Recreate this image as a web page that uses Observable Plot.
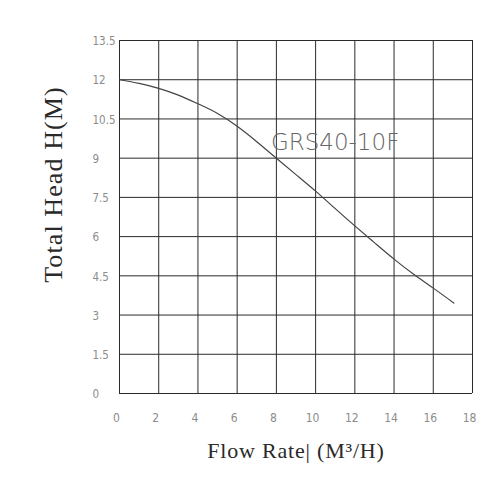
<!DOCTYPE html>
<html>
<head>
<meta charset="utf-8">
<script src="https://cdn.jsdelivr.net/npm/d3@7"></script>
<script src="https://cdn.jsdelivr.net/npm/@observablehq/plot@0.6"></script>
<style>
  html, body { margin: 0; padding: 0; background: #fff; }
  svg g[aria-label="x-axis tick label"] text,
  svg g[aria-label="y-axis tick label"] text { font-stretch: condensed; }
</style>
</head>
<body>
<div id="chart"></div>
<script>
// Data
const flow = [0, 1, 2, 3, 4, 5, 6, 7, 8, 9, 10, 11, 12, 13, 14, 15, 16, 17.05];
const head = [12, 11.86, 11.67, 11.41, 11.08, 10.71, 10.22, 9.63, 9.0, 8.37, 7.74, 7.07, 6.41, 5.77, 5.14, 4.56, 4.03, 3.46];
const xTicks = [0, 2, 4, 6, 8, 10, 12, 14, 16, 18];
const yTicks = [0, 1.5, 3, 4.5, 6, 7.5, 9, 10.5, 12, 13.5];
const seriesName = ["GRS40-10F"];
const xTitle = "Flow Rate| (M³/H)";
const yTitle = "Total Head H(M)";

const points = flow.map((f, i) => ({flow: f, head: head[i]}));

const svg = Plot.plot({
  width: 500,
  height: 500,
  marginLeft: 119,
  marginRight: 28,
  marginTop: 40,
  marginBottom: 107,
  style: {fontFamily: "'DejaVu Sans', sans-serif", fontSize: "12px", background: "#fff"},
  x: {domain: [0, 18]},
  y: {domain: [0, 13.5]},
  marks: [
    Plot.ruleX(xTicks, {stroke: "#2a2a2a", strokeWidth: 1}),
    Plot.ruleY(yTicks, {stroke: "#2a2a2a", strokeWidth: 1}),
    Plot.axisX({ticks: xTicks, tickFormat: d => `${d}`, tickSize: 0, tickPadding: 20, dx: -3, fill: "#8c8c8c", fontSize: 12, label: null}),
    Plot.axisY({ticks: yTicks, tickFormat: d => `${d}`, tickSize: 0, tickPadding: 27, textAnchor: "start", dy: 1, fill: "#8c8c8c", fontSize: 11.5, label: null}),
    Plot.line(points, {x: "flow", y: "head", curve: "natural", stroke: "#444", strokeWidth: 1.2}),
    Plot.text(seriesName, {x: 7.72, y: 9.6, text: d => d, textAnchor: "start", lineAnchor: "middle", fontFamily: "DejaVu Sans", fontSize: 23, fill: "#666", fontWeight: 200}),
    Plot.text([xTitle], {frameAnchor: "bottom", text: d => d, textAnchor: "middle", dy: 57, lineAnchor: "middle", fontFamily: "Liberation Serif", fontSize: 22, fill: "#2a2a2a"}),
    Plot.text([yTitle], {frameAnchor: "left", text: d => d, rotate: -90, textAnchor: "middle", dx: -65.6, dy: -32.5, lineAnchor: "middle", fontFamily: "Liberation Serif", fontSize: 26, fill: "#2a2a2a"})
  ]
});

svg.querySelectorAll("text").forEach(t => {
  if (t.textContent === yTitle) t.style.letterSpacing = "1.1px";
  if (t.textContent === xTitle) t.style.letterSpacing = "0.8px";
});

document.getElementById("chart").appendChild(svg);
</script>
</body>
</html>
